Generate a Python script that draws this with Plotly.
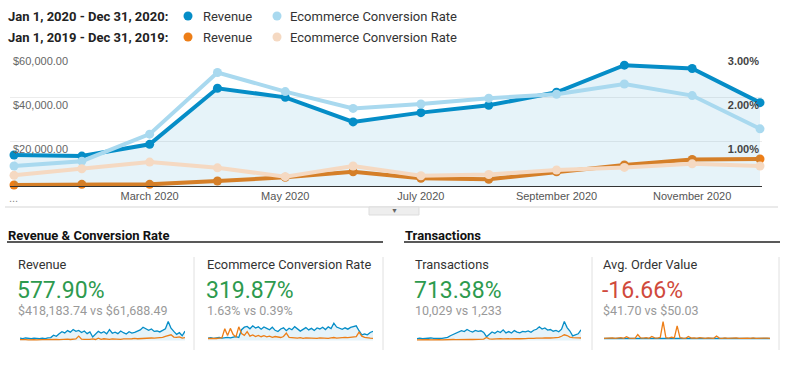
import plotly.graph_objects as go

# ---------------- data ----------------
months = ["Jan 2020", "Feb 2020", "Mar 2020", "Apr 2020", "May 2020", "Jun 2020",
          "Jul 2020", "Aug 2020", "Sep 2020", "Oct 2020", "Nov 2020", "Dec 2020"]
tick_idx = [2, 4, 6, 8, 10]
tick_labels = ["March 2020", "May 2020", "July 2020", "September 2020", "November 2020"]

revenue_2020 = [14000, 13500, 18800, 44100, 40000, 28900, 33100, 36400, 42300, 54500, 53000, 37600]
conv_2020 = [0.45, 0.56, 1.17, 2.56, 2.13, 1.75, 1.85, 1.98, 2.07, 2.30, 2.04, 1.29]
revenue_2019 = [450, 750, 750, 2250, 3900, 6450, 3500, 3000, 6450, 9500, 12000, 12200]
conv_2019 = [0.24, 0.39, 0.54, 0.41, 0.21, 0.45, 0.23, 0.26, 0.36, 0.42, 0.50, 0.45]

rev_ticks = [20000, 40000, 60000]
rev_tick_text = ["$20,000.00", "$40,000.00", "$60,000.00"]
conv_ticks = [1, 2, 3]
conv_tick_text = ["1.00%", "2.00%", "3.00%"]

# sparkline series (relative)
spark_rev_2020 = [1.2,1.0,1.3,1.1,1.0,1.2,1.1,0.9,1.2,1.0,1.3,1.5,2.8,2.2,3.5,4.6,4.0,5.2,4.4,5.8,4.8,5.3,4.2,5.0,3.6,4.5,1.8,3.2,4.8,3.9,
                  4.6,3.5,5.7,3.8,4.4,3.6,5.0,4.1,3.4,4.6,3.9,4.3,4.8,5.6,7.0,6.3,5.4,6.1,4.8,5.0,4.5,5.3,6.2,10.0,6.5,4.8,3.2,4.1,2.5,4.9]
spark_rev_2019 = [0.4,0.5,0.4,0.3,0.5,0.4,0.3,0.5,0.4,0.4,0.5,0.3,0.6,0.5,0.4,0.6,0.5,0.7,0.5,0.6,0.8,2.3,0.7,0.6,0.5,0.6,0.8,0.5,1.2,0.6,
                  0.9,0.7,0.6,0.8,0.7,0.9,0.6,0.8,1.0,0.8,0.9,1.1,0.9,1.0,1.2,1.0,1.1,1.3,1.2,1.4,1.5,1.6,2.2,2.8,3.0,1.8,1.6,1.9,1.2,1.5]
spark_conv_2020 = [1.2,1.4,1.1,1.3,1.5,1.2,1.4,1.6,1.3,1.8,2.0,1.5,5.5,6.8,7.2,6.0,7.5,6.4,7.0,5.8,6.9,6.2,5.5,6.8,5.2,4.6,5.9,6.5,5.0,6.3,
                   5.5,7.1,6.0,4.8,5.7,6.6,5.4,6.2,5.1,6.4,5.9,6.8,5.6,7.0,6.1,8.9,6.9,6.3,5.7,6.5,5.8,6.7,7.2,7.5,5.0,2.8,3.3,2.9,4.1,4.7]
spark_conv_2019 = [1.0,0.9,1.1,1.0,1.2,1.4,6.0,2.5,6.2,3.0,1.8,7.0,3.5,2.6,4.5,2.2,2.8,2.0,2.6,1.9,2.4,1.8,2.2,1.6,2.0,1.7,1.5,2.0,3.8,1.6,
                   1.4,1.3,1.2,1.4,1.1,1.3,1.2,1.0,1.2,1.1,1.3,1.2,1.4,1.1,1.3,1.5,1.2,1.4,1.3,1.6,1.4,1.5,1.7,2.0,4.3,2.2,1.6,1.3,1.2,1.1]
spark_tx_2020 = [1.0,1.2,0.9,1.1,1.0,1.3,1.1,1.0,1.2,1.1,1.4,1.6,2.5,3.2,4.0,4.6,5.2,4.7,5.8,5.0,4.4,5.3,4.8,5.1,4.2,2.0,3.1,4.5,3.8,4.9,
                 4.2,5.6,4.0,4.7,3.9,5.2,4.4,4.0,4.8,4.5,5.0,4.3,5.4,5.9,7.2,6.0,6.6,5.5,5.8,4.9,5.3,4.6,6.0,10.0,6.8,5.0,2.4,3.0,3.5,5.6]
spark_tx_2019 = [0.3,0.4,0.3,0.3,0.4,0.3,0.4,0.3,0.4,0.3,0.4,0.3,0.4,0.5,0.4,0.5,0.4,0.5,0.5,0.6,0.5,0.6,0.7,0.6,0.7,1.6,0.8,0.7,0.9,0.8,
                 1.0,0.8,0.9,0.8,1.0,0.9,1.0,0.9,1.1,1.0,1.1,1.0,1.1,1.2,1.1,1.2,1.3,1.2,1.3,1.4,1.5,1.6,2.2,3.0,2.6,1.8,1.5,1.6,1.4,1.3]
spark_aov_2020 = [0.9,1.0,0.9,0.9,1.0,0.9,0.9,1.0,0.9,0.9,1.0,0.9,0.9,1.0,0.9,0.9,1.0,0.9,0.9,1.0,0.9,0.9,1.0,0.9,0.9,1.0,0.9,0.9,1.0,0.9,
                  0.9,1.0,0.9,0.9,1.0,0.9,0.9,1.0,0.9,0.9,1.0,0.9,0.9,1.0,0.9,0.9,1.0,0.9,0.9,1.0,0.9,0.9,1.0,0.9,0.9,1.0,0.9,0.9,1.0,0.9]
spark_aov_2019 = [1.0,1.1,1.0,1.2,1.0,1.1,1.3,1.0,1.8,1.1,1.2,1.0,2.8,1.2,1.1,1.3,1.0,1.9,1.2,1.1,1.4,9.0,1.3,1.1,1.5,1.2,7.0,1.3,1.1,1.0,
                  1.9,1.1,1.2,1.0,1.3,1.1,1.0,1.2,1.1,1.0,2.1,1.1,1.0,1.2,1.0,1.1,1.0,1.2,1.0,1.1,1.0,1.1,1.0,1.2,1.0,1.1,1.0,1.0,1.1,1.0]

cards = [
    ("Revenue", "577.90%", "$418,183.74 vs $61,688.49", "#2d9a4e"),
    ("Ecommerce Conversion Rate", "319.87%", "1.63% vs 0.39%", "#2d9a4e"),
    ("Transactions", "713.38%", "10,029 vs 1,233", "#2d9a4e"),
    ("Avg. Order Value", "-16.66%", "$41.70 vs $50.03", "#d04a3c"),
]

# ---------------- styling ----------------
W, H = 800, 378
BLUE = "#058dc7"
LBLUE = "#a9d9ef"
ORANGE = "#ed7e17"
PEACH = "#f5d9c2"
FONT = "Roboto, Arial, sans-serif"
AXFONT = "Liberation Sans, Arial, sans-serif"


def px(x):
    return x / W


def py(y):
    return 1 - y / H


x_idx = list(range(len(months)))
fig = go.Figure()

# main chart
fig.add_trace(go.Scatter(x=x_idx, y=conv_2020, yaxis="y2", mode="lines+markers",
                         line=dict(color=LBLUE, width=4), marker=dict(size=9, color=LBLUE),
                         cliponaxis=False))
fig.add_trace(go.Scatter(x=x_idx, y=conv_2019, yaxis="y2", mode="lines+markers",
                         line=dict(color=PEACH, width=4), marker=dict(size=9, color=PEACH),
                         cliponaxis=False))
fig.add_trace(go.Scatter(x=x_idx, y=revenue_2019, yaxis="y", mode="lines+markers",
                         line=dict(color=ORANGE, width=4), marker=dict(size=9, color=ORANGE),
                         cliponaxis=False))
fig.add_trace(go.Scatter(x=x_idx, y=revenue_2020, yaxis="y", mode="lines+markers",
                         line=dict(color=BLUE, width=4), marker=dict(size=9, color=BLUE),
                         fill="tozeroy", fillcolor="rgba(5,141,199,0.10)",
                         cliponaxis=False))

# sparklines
spark_sets = [
    (spark_rev_2020, spark_rev_2019, 20, 185, 10.3),
    (spark_conv_2020, spark_conv_2019, 208, 373, 10.0),
    (spark_tx_2020, spark_tx_2019, 417, 581, 10.3),
    (spark_aov_2020, spark_aov_2019, 604, 770, 9.3),
]
for i, (s20, s19, x0, x1, ymax) in enumerate(spark_sets):
    xa = f"x{i + 2}"
    ya = f"y{i + 3}"
    xs = list(range(len(s20)))
    if i < 3:
        fig.add_trace(go.Scatter(x=xs, y=s20, xaxis=xa, yaxis=ya, mode="lines",
                                 line=dict(color=BLUE, width=1.3),
                                 fill="tozeroy", fillcolor="rgba(5,141,199,0.10)"))
        fig.add_trace(go.Scatter(x=xs, y=s19, xaxis=xa, yaxis=ya, mode="lines",
                                 line=dict(color=ORANGE, width=1.3)))
    else:
        fig.add_trace(go.Scatter(x=xs, y=s20, xaxis=xa, yaxis=ya, mode="lines",
                                 line=dict(color=BLUE, width=1.3)))
        fig.add_trace(go.Scatter(x=xs, y=s19, xaxis=xa, yaxis=ya, mode="lines",
                                 line=dict(color=ORANGE, width=1.3)))

layout = dict(
    width=W, height=H, margin=dict(l=0, r=0, t=0, b=0),
    paper_bgcolor="white", plot_bgcolor="rgba(0,0,0,0)",
    showlegend=False, hovermode=False,
    font=dict(family=FONT, color="#333"),
    xaxis=dict(domain=[px(10), px(762)], range=[-4 / 67.8, 11 + 2 / 67.8],
               tickvals=tick_idx, ticktext=tick_labels, showgrid=False, zeroline=False,
               showline=True, linecolor="#333", linewidth=1, ticks="",
               ticklabeloverflow="allow",
               tickfont=dict(family=AXFONT, size=11, color="#555"), anchor="y"),
    yaxis=dict(domain=[py(186), py(53)], range=[0, 60000], tickvals=rev_ticks,
               ticktext=rev_tick_text, ticklabelposition="inside bottom",
               showgrid=True, gridcolor="#ececec", gridwidth=1, zeroline=False,
               tickfont=dict(family=AXFONT, size=11, color="#666"), ticks="", anchor="x"),
    yaxis2=dict(overlaying="y", side="right", range=[0, 3], tickvals=conv_ticks,
                ticktext=conv_tick_text, ticklabelposition="inside bottom",
                showgrid=False, zeroline=False, anchor="x",
                tickfont=dict(family=AXFONT, size=11, color="#444", weight="bold"), ticks=""),
)
for i, (s20, s19, x0, x1, ymax) in enumerate(spark_sets):
    layout[f"xaxis{i + 2}"] = dict(domain=[px(x0), px(x1)], range=[0, len(s20) - 1], visible=False,
                                   anchor=f"y{i + 3}")
    layout[f"yaxis{i + 3}"] = dict(domain=[py(341), py(321)], range=[-0.3, ymax], visible=False,
                                   anchor=f"x{i + 2}")
fig.update_layout(**layout)

shapes = []
annotations = []


def text(x, y, s, size=13, color="#333", bold=False, anchor="left", family=FONT):
    annotations.append(dict(x=px(x), y=py(y), xref="paper", yref="paper", text=s, showarrow=False,
                            xanchor=anchor, yanchor="middle",
                            font=dict(family=family, size=size, color=color,
                                      weight="bold" if bold else "normal")))


def dot(x, y, r, color):
    shapes.append(dict(type="circle", xref="paper", yref="paper", x0=px(x - r), x1=px(x + r),
                       y0=py(y + r), y1=py(y - r), fillcolor=color, line=dict(width=0)))


def line(x0, y0, x1, y1, color, width=1):
    shapes.append(dict(type="line", xref="paper", yref="paper", x0=px(x0), x1=px(x1),
                       y0=py(y0), y1=py(y1), line=dict(color=color, width=width)))


# legend
text(6, 16, "Jan 1, 2020 - Dec 31, 2020:", 13, "#222", True)
text(6, 37, "Jan 1, 2019 - Dec 31, 2019:", 13, "#222", True)
dot(188, 16, 4.5, BLUE)
dot(188, 37, 4.5, ORANGE)
dot(277, 16, 4.5, LBLUE)
dot(277, 37, 4.5, PEACH)
text(201, 16, "Revenue", 13, "#333")
text(201, 37, "Revenue", 13, "#333")
text(288, 16, "Ecommerce Conversion Rate", 13, "#333")
text(288, 37, "Ecommerce Conversion Rate", 13, "#333")

# ellipsis at the start of the time axis
text(7, 198, "...", 11, "#888", family=AXFONT)

# gray line under chart + toggle button
line(5, 207, 778, 207, "#e3e3e3", 1.5)
shapes.append(dict(type="rect", xref="paper", yref="paper", x0=px(369), x1=px(419),
                   y0=py(215), y1=py(207), fillcolor="#eeeeee", line=dict(color="#dddddd", width=1)))
text(394, 210.5, "▼", 7, "#666", anchor="center")

# section headers
text(6, 235, "Revenue &amp; Conversion Rate", 13, "#111", True)
text(403, 235, "Transactions", 13, "#111", True)
line(7, 242, 383, 242, "#222", 1.5)
line(404, 242, 780, 242, "#222", 1.5)

# cards
card_x = [17, 206, 414, 602]
for (title, big, sub, col), cx in zip(cards, card_x):
    text(cx - 1, 264, title, 12.8, "#333")
    text(cx - 2, 290, big, 23, col)
    text(cx - 1, 310, sub, 12.5, "#999")
for sx in [194, 383, 592, 779]:
    line(sx, 257, sx, 350, "#e0e0e0", 1)

fig.update_layout(shapes=shapes, annotations=annotations)
fig.write_html("out.html", config={"displayModeBar": False},
               post_script="document.body.style.margin='0';document.body.style.overflow='hidden';")
